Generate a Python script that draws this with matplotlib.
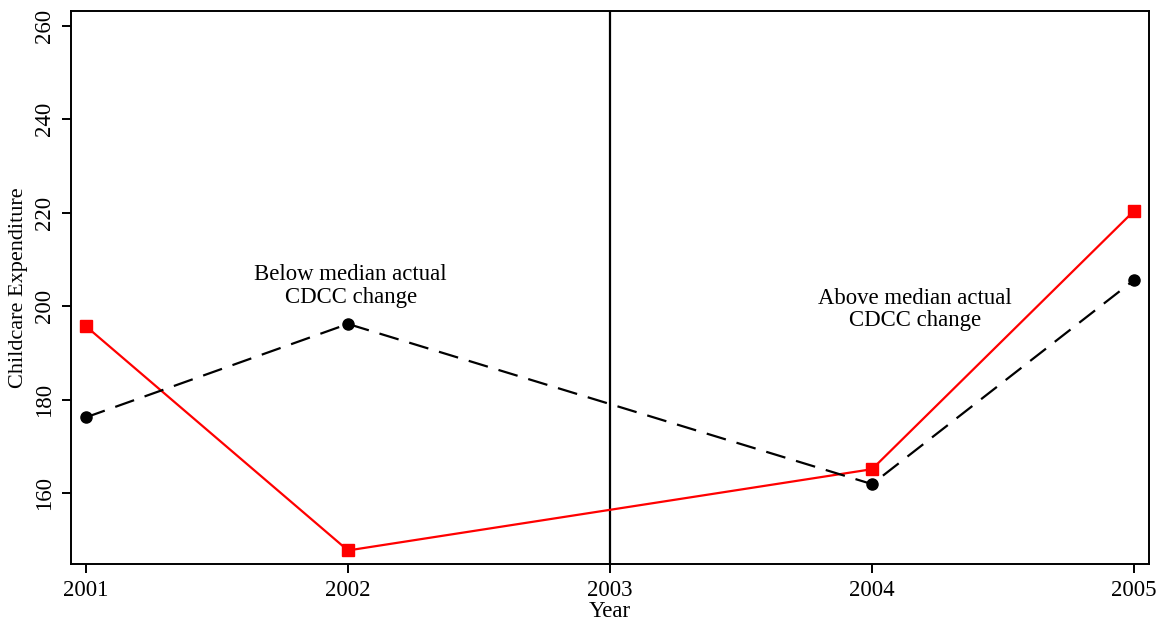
import matplotlib
matplotlib.use("Agg")
import matplotlib.pyplot as plt

plt.rcParams['font.family'] = ['Liberation Serif', 'DejaVu Serif']

years = [2001, 2002, 2004, 2005]
below_median = [195.7, 147.7, 165.1, 220.4]
above_median = [176.2, 196.2, 161.9, 205.6]
xticks = [2001, 2002, 2003, 2004, 2005]
yticks = [160, 180, 200, 220, 240, 260]

fig = plt.figure(figsize=(11.66, 6.26), dpi=100)
ax = fig.add_axes([71/1166, 1 - 564/626, (1149 - 71)/1166, (564 - 11)/626])

ax.plot(years, below_median, color='red', lw=1.6, marker='s', ms=8.5,
        zorder=3)
ax.plot(years, above_median, color='black', lw=1.6, ls=(0, (9, 5)),
        marker='o', ms=8, zorder=3)
ax.axvline(2003, color='black', lw=1.6, zorder=2)

ax.text(2002.01, 204.3, "Below median actual\nCDCC change", ha='center',
        va='center', fontsize=16.4, linespacing=1.08)
ax.text(2004.164, 199.3, "Above median actual\nCDCC change", ha='center',
        va='center', fontsize=16.4, linespacing=1.08)

ax.set_xlim(2000.943, 2005.057)
ax.set_ylim(144.8, 263.2)
ax.set_xticks(xticks)
ax.set_xticklabels([str(x) for x in xticks])
ax.set_yticks(yticks)
ax.set_yticklabels([str(y) for y in yticks], rotation=90, va='center')
ax.tick_params(axis='both', direction='out', length=6.5, width=1.4,
               labelsize=16.5, pad=5)
for s in ax.spines.values():
    s.set_linewidth(1.4)
ax.set_xlabel("Year", fontsize=16.5, labelpad=0)
ax.set_ylabel("Childcare Expenditure", fontsize=16, labelpad=4)

fig.savefig("out.png", dpi=100)
